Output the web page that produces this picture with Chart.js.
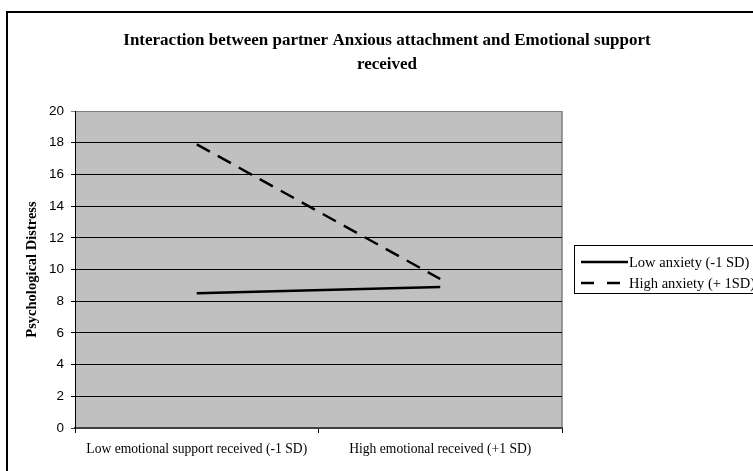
<!DOCTYPE html>
<html>
<head>
<meta charset="utf-8">
<script src="https://cdn.jsdelivr.net/npm/chart.js@4.4.1/dist/chart.umd.min.js"></script>
<style>
  html, body { margin: 0; padding: 0; background: #ffffff; }
  #wrap { width: 753px; height: 471px; }
</style>
</head>
<body>
<div id="wrap"><canvas id="chart" width="753" height="471"></canvas></div>
<script>
// Categories along the x axis
const categories = ['Low emotional support received (-1 SD)', 'High emotional received (+1 SD)'];
// Simple slopes of psychological distress
const lowAnxiety = [8.5, 8.9];
const highAnxiety = [17.9, 9.4];
const seriesNames = ['Low anxiety (-1 SD)', 'High anxiety (+ 1SD)'];
// Y axis ticks
const yTicks = [0, 2, 4, 6, 8, 10, 12, 14, 16, 18, 20];
const titleLines = ['Interaction between partner Anxious attachment and Emotional support', 'received'];
const yTitle = 'Psychological Distress';

const SERIF = '"Liberation Serif", "Times New Roman", serif';
const SANS = '"Liberation Sans", Arial, sans-serif';

// Frame, plot background, title and boxed legend
const decorations = {
  id: 'decorations',
  beforeDraw(chart) {
    const ctx = chart.ctx;
    const a = chart.chartArea;
    ctx.save();
    ctx.fillStyle = '#ffffff';
    ctx.fillRect(0, 0, chart.width, chart.height);
    // outer frame
    ctx.strokeStyle = '#000000';
    ctx.lineWidth = 2;
    ctx.strokeRect(7, 12, 900, 600);
    // plot area fill
    ctx.fillStyle = '#c0c0c0';
    ctx.fillRect(a.left, a.top, a.right - a.left, a.bottom - a.top);
    // right edge of plot
    ctx.strokeStyle = '#808080';
    ctx.lineWidth = 1.5;
    ctx.beginPath();
    ctx.moveTo(a.right, a.top);
    ctx.lineTo(a.right, a.bottom);
    ctx.stroke();
    // title
    ctx.fillStyle = '#000000';
    ctx.font = 'bold 17px ' + SERIF;
    ctx.textAlign = 'center';
    ctx.textBaseline = 'alphabetic';
    ctx.fillText(titleLines[0], 387, 45);
    ctx.fillText(titleLines[1], 387, 69);
    ctx.restore();
  },
  afterDraw(chart) {
    const ctx = chart.ctx;
    ctx.save();
    // legend box
    ctx.strokeStyle = '#000000';
    ctx.lineWidth = 1;
    ctx.strokeRect(574.5, 245.5, 300, 48);
    ctx.font = '14.5px ' + SERIF;
    ctx.fillStyle = '#000000';
    ctx.textAlign = 'left';
    ctx.textBaseline = 'middle';
    const rows = [262, 283];
    chart.data.datasets.forEach((ds, i) => {
      ctx.strokeStyle = ds.borderColor;
      ctx.lineWidth = 2.5;
      ctx.setLineDash(i === 1 ? [13, 13] : []);
      ctx.beginPath();
      ctx.moveTo(581, rows[i]);
      ctx.lineTo(i === 1 ? 621 : 628, rows[i]);
      ctx.stroke();
      ctx.setLineDash([]);
      ctx.fillText(ds.label, 629, rows[i] + 1);
    });
    ctx.restore();
  }
};

new Chart(document.getElementById('chart'), {
  type: 'line',
  data: {
    labels: categories,
    datasets: [
      {
        label: seriesNames[0],
        data: lowAnxiety,
        borderColor: '#000000',
        borderWidth: 2.5,
        pointRadius: 0,
        tension: 0,
        fill: false
      },
      {
        label: seriesNames[1],
        data: highAnxiety,
        borderColor: '#000000',
        borderWidth: 2.5,
        borderDash: [15, 9],
        pointRadius: 0,
        tension: 0,
        fill: false
      }
    ]
  },
  options: {
    responsive: false,
    animation: false,
    events: [],
    layout: { padding: { left: 0, top: 111, right: 191, bottom: 0 } },
    plugins: {
      legend: { display: false },
      title: { display: false },
      tooltip: { enabled: false }
    },
    scales: {
      x: {
        type: 'category',
        offset: true,
        afterFit(scale) { scale.height = 43; },
        grid: {
          offset: true,
          drawOnChartArea: false,
          drawTicks: true,
          tickLength: 5,
          color: '#000000'
        },
        border: { display: true, color: '#404040', width: 2 },
        ticks: {
          color: '#000000',
          font: { family: SERIF, size: 13.6 },
          padding: 8,
          maxRotation: 0,
          autoSkip: false
        }
      },
      y: {
        min: 0,
        max: 20,
        afterFit(scale) { scale.width = 75; },
        afterBuildTicks(scale) { scale.ticks = yTicks.map(v => ({ value: v })); },
        grid: {
          color(c) {
            if (c.tick && c.tick.value === 20) return '#808080';
            if (c.tick && c.tick.value === 0) return '#404040';
            return '#000000';
          },
          lineWidth: 1,
          tickLength: 4,
          drawTicks: true
        },
        border: { display: true, color: '#000000', width: 1 },
        ticks: {
          color: '#000000',
          font: { family: SANS, size: 13.5 },
          padding: 7
        },
        title: {
          display: true,
          text: yTitle,
          color: '#000000',
          font: { family: SERIF, size: 14.5, weight: 'bold' },
          padding: { top: 24, bottom: 0 }
        }
      }
    }
  },
  plugins: [decorations]
});
</script>
</body>
</html>
